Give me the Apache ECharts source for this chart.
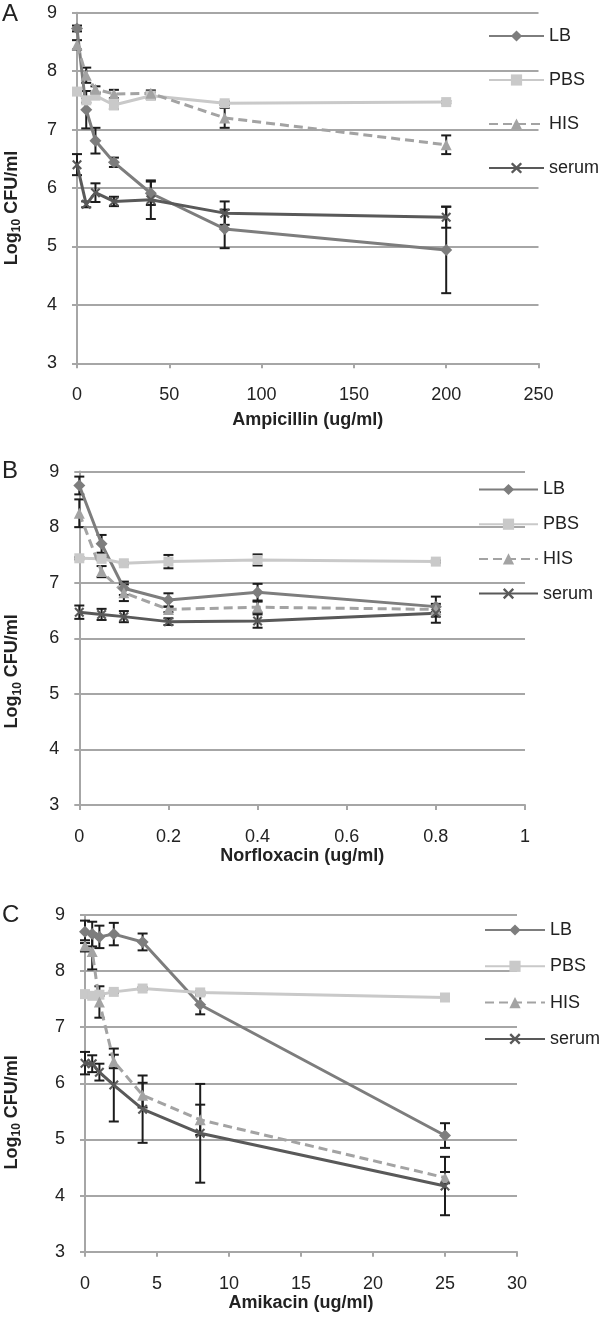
<!DOCTYPE html>
<html>
<head>
<meta charset="utf-8">
<script src="https://cdn.jsdelivr.net/npm/echarts@6.0.0/dist/echarts.min.js"></script>
<style>
  html, body { margin: 0; padding: 0; background: #fff; }
  #chart { width: 600px; height: 1317px; }
</style>
</head>
<body>
<div id="chart"></div>
<script>
// y scale shared by all three panels
var yTicks = [3, 4, 5, 6, 7, 8, 9];
var seriesNames = ['LB', 'PBS', 'HIS', 'serum'];

// panel A - ampicillin
var ampTicks = [0, 50, 100, 150, 200, 250];
var ampX = [0, 5, 10, 20, 40, 80, 200];
var ampLB = [8.73, 7.34, 6.81, 6.44, 5.91, 5.30, 4.94];
var ampLBErr = [0.05, 0.32, 0.22, 0.08, 0.20, 0.33, 0.74];
var ampPBS = [7.65, 7.50, 7.58, 7.42, 7.58, 7.45, 7.47];
var ampPBSErr = [0.03, 0.04, 0.04, 0.07, 0.06, 0.03, 0.02];
var ampHIS = [8.45, 7.93, 7.69, 7.61, 7.62, 7.20, 6.74];
var ampHISErr = [0.08, 0.13, 0.05, 0.07, 0.05, 0.17, 0.16];
var ampSerum = [6.40, 5.72, 5.92, 5.77, 5.80, 5.57, 5.50];
var ampSerumErr = [0.18, 0.05, 0.16, 0.08, 0.33, 0.20, 0.18];

// panel B - norfloxacin
var norTicks = [0, 0.2, 0.4, 0.6, 0.8, 1];
var norX = [0, 0.05, 0.1, 0.2, 0.4, 0.8];
var norLB = [8.75, 7.70, 6.90, 6.69, 6.83, 6.57];
var norLBErr = [0.16, 0.16, 0.12, 0.12, 0.15, 0.18];
var norPBS = [7.44, 7.43, 7.35, 7.38, 7.41, 7.38];
var norPBSErr = [0.02, 0.02, 0.02, 0.12, 0.10, 0.02];
var norHIS = [8.25, 7.20, 6.82, 6.52, 6.56, 6.52];
var norHISErr = [0.25, 0.10, 0.15, 0.05, 0.10, 0.05];
var norSerum = [6.47, 6.43, 6.39, 6.30, 6.31, 6.45];
var norSerumErr = [0.12, 0.10, 0.10, 0.06, 0.12, 0.17];

// panel C - amikacin
var amiTicks = [0, 5, 10, 15, 20, 25, 30];
var amiX = [0, 0.5, 1, 2, 4, 8, 25];
var amiLB = [8.70, 8.66, 8.61, 8.66, 8.52, 7.40, 5.07];
var amiLBErr = [0.20, 0.22, 0.20, 0.20, 0.15, 0.17, 0.22];
var amiPBS = [7.59, 7.56, 7.58, 7.63, 7.69, 7.62, 7.53];
var amiPBSErr = [0.02, 0.02, 0.02, 0.02, 0.02, 0.02, 0.02];
var amiHIS = [8.45, 8.35, 7.45, 6.39, 5.79, 5.35, 4.32];
var amiHISErr = [0.10, 0.32, 0.28, 0.12, 0.22, 0.27, 0.10];
var amiSerum = [6.36, 6.35, 6.20, 5.97, 5.54, 5.11, 4.17];
var amiSerumErr = [0.20, 0.15, 0.15, 0.65, 0.60, 0.88, 0.52];

var FONT = 'Liberation Sans, Arial, sans-serif';
var GRAY = '#a6a6a6';
var INK = '#222';

var looks = {
  LB: { color: '#7d7d7d', symbol: 'diamond', size: 12, dash: 'solid' },
  PBS: { color: '#c9c9c9', symbol: 'rect', size: 10, dash: 'solid' },
  HIS: { color: '#a3a3a3', symbol: 'triangle', size: 11, dash: [9, 5] },
  serum: { color: '#595959', symbol: 'path://M0,1.5L1.5,0L5,3.5L8.5,0L10,1.5L6.5,5L10,8.5L8.5,10L5,6.5L1.5,10L0,8.5L3.5,5Z', size: 10, dash: 'solid' }
};

var panels = [
  { letter: 'A', drug: 'Ampicillin (ug/ml)', ticks: ampTicks, xs: ampX,
    ys: [ampLB, ampPBS, ampHIS, ampSerum], errs: [ampLBErr, ampPBSErr, ampHISErr, ampSerumErr],
    grid: { left: 77, top: 12.7, width: 461.5, height: 350.6 },
    nameGapX: 48, nameGapY: 54, namePad: 40, letterTop: 2,
    legend: { left: 483, top: 22, w: 55, gap: 26 } },
  { letter: 'B', drug: 'Norfloxacin (ug/ml)', ticks: norTicks, xs: norX,
    ys: [norLB, norPBS, norHIS, norSerum], errs: [norLBErr, norPBSErr, norHISErr, norSerumErr],
    grid: { left: 79.3, top: 471.6, width: 445.7, height: 333.4 },
    nameGapX: 42, nameGapY: 56, namePad: 66, letterTop: 459,
    legend: { left: 473, top: 475.5, w: 59, gap: 16.7 } },
  { letter: 'C', drug: 'Amikacin (ug/ml)', ticks: amiTicks, xs: amiX,
    ys: [amiLB, amiPBS, amiHIS, amiSerum], errs: [amiLBErr, amiPBSErr, amiHISErr, amiSerumErr],
    grid: { left: 85, top: 915, width: 432, height: 336.7 },
    nameGapX: 42, nameGapY: 62, namePad: 58, letterTop: 903,
    legend: { left: 479, top: 916, w: 60, gap: 18.3 } }
];

function lineSeries(name, xs, ys, idx) {
  var look = looks[name];
  return {
    name: name, type: 'line', xAxisIndex: idx, yAxisIndex: idx,
    data: xs.map(function (x, i) { return [x, ys[i]]; }),
    symbol: look.symbol, symbolSize: look.size, showSymbol: true,
    lineStyle: { color: look.color, width: 3, type: look.dash },
    itemStyle: { color: look.color },
    z: 3
  };
}

function errorBars(xs, ys, errs, idx) {
  return {
    type: 'custom', xAxisIndex: idx, yAxisIndex: idx, z: 2, silent: true,
    data: xs.map(function (x, i) { return [x, ys[i] - errs[i], ys[i] + errs[i]]; }),
    encode: { x: 0, y: [1, 2] },
    renderItem: function (params, api) {
      var lo = api.coord([api.value(0), api.value(1)]);
      var hi = api.coord([api.value(0), api.value(2)]);
      var w = 5;
      var st = { stroke: '#1c1c1c', lineWidth: 2 };
      return {
        type: 'group', children: [
          { type: 'line', shape: { x1: lo[0], y1: lo[1], x2: hi[0], y2: hi[1] }, style: st },
          { type: 'line', shape: { x1: lo[0] - w, y1: lo[1], x2: lo[0] + w, y2: lo[1] }, style: st },
          { type: 'line', shape: { x1: hi[0] - w, y1: hi[1], x2: hi[0] + w, y2: hi[1] }, style: st }
        ]
      };
    }
  };
}

var grids = [], xAxes = [], yAxes = [], legends = [], series = [], texts = [];

panels.forEach(function (p, idx) {
  grids.push({ left: p.grid.left, top: p.grid.top, width: p.grid.width, height: p.grid.height, outerBoundsMode: 'none' });
  xAxes.push({
    type: 'value', gridIndex: idx,
    min: p.ticks[0], max: p.ticks[p.ticks.length - 1], interval: p.ticks[1] - p.ticks[0],
    axisLine: { show: true, onZero: false, lineStyle: { color: GRAY, width: 2 } },
    axisTick: { show: true, length: 5, lineStyle: { color: GRAY, width: 2 } },
    axisLabel: { margin: 23, fontSize: 18, color: INK, fontFamily: FONT },
    splitLine: { show: false },
    name: p.drug, nameLocation: 'middle', nameGap: p.nameGapX,
    nameTextStyle: { fontSize: 18, fontWeight: 'bold', color: INK, fontFamily: FONT }
  });
  yAxes.push({
    type: 'value', gridIndex: idx,
    min: yTicks[0], max: yTicks[yTicks.length - 1], interval: yTicks[1] - yTicks[0],
    axisLine: { show: true, lineStyle: { color: GRAY, width: 2 } },
    axisTick: { show: true, length: 5, lineStyle: { color: GRAY, width: 2 } },
    axisLabel: { margin: 20, fontSize: 18, color: INK, fontFamily: FONT },
    splitLine: { show: true, lineStyle: { color: GRAY, width: 2 } },
    name: '{a|Log}{b|10}{a| CFU/ml}', nameLocation: 'middle', nameGap: p.nameGapY,
    nameTextStyle: {
      padding: [0, p.namePad, 0, 0],
      rich: {
        a: { fontSize: 18, fontWeight: 'bold', color: INK, fontFamily: FONT, lineHeight: 22 },
        b: { fontSize: 12, fontWeight: 'bold', color: INK, fontFamily: FONT, verticalAlign: 'bottom', lineHeight: 12 }
      }
    }
  });
  legends.push({
    orient: 'vertical', left: p.legend.left, top: p.legend.top,
    itemWidth: p.legend.w, itemHeight: 14, itemGap: p.legend.gap,
    selectedMode: false, data: seriesNames,
    textStyle: { fontSize: 18, color: INK, fontFamily: FONT }
  });
  seriesNames.forEach(function (name, k) {
    series.push(errorBars(p.xs, p.ys[k], p.errs[k], idx));
  });
  seriesNames.forEach(function (name, k) {
    series.push(lineSeries(name, p.xs, p.ys[k], idx));
  });
  texts.push({
    type: 'text', left: 2, top: p.letterTop,
    style: { text: p.letter, font: '24px ' + FONT, fill: INK }
  });
});

var chart = echarts.init(document.getElementById('chart'));
chart.setOption({
  animation: false,
  backgroundColor: '#fff',
  grid: grids,
  xAxis: xAxes,
  yAxis: yAxes,
  legend: legends,
  graphic: texts,
  series: series
});
</script>
</body>
</html>
